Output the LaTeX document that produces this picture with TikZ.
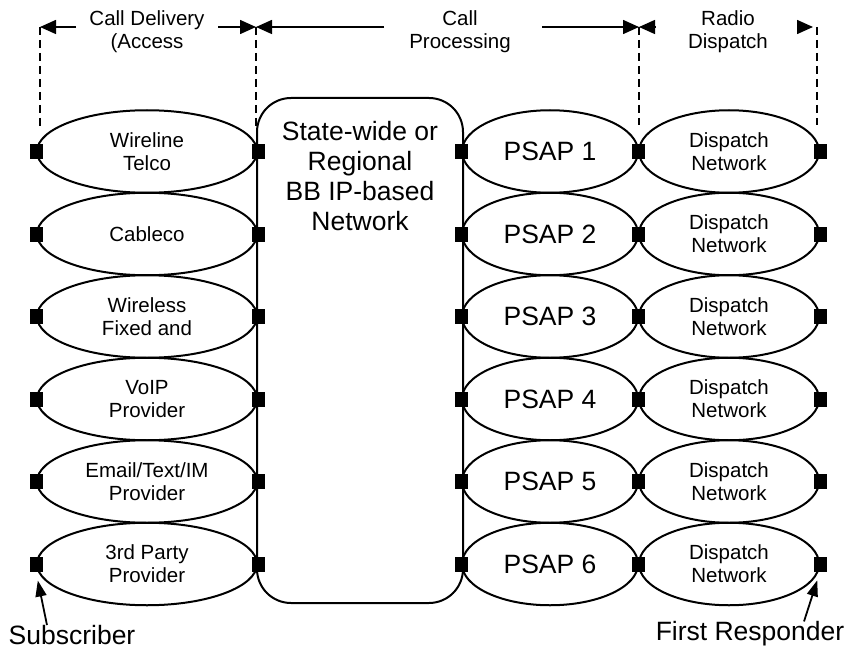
\documentclass[tikz,border=0pt]{standalone}
\usepackage{fontspec}
\setmainfont{Liberation Sans}
\usetikzlibrary{shapes.geometric}
\usetikzlibrary{arrows.meta}
\pgfdeclarelayer{edgelayer}
\pgfdeclarelayer{nodelayer}
\pgfsetlayers{edgelayer,nodelayer,main}
\tikzstyle{none}=[inner sep=0pt]
\tikzstyle{access}=[ellipse,fill=white,draw=black,line width=2pt,minimum width=220pt,minimum height=82.5pt,inner sep=0pt,align=center,font=\fontsize{20.5}{23}\selectfont]
\tikzstyle{psap}=[access,minimum width=176pt,font=\fontsize{26.5}{30}\selectfont]
\tikzstyle{dispatch}=[access,minimum width=180pt]
\tikzstyle{backbone}=[rectangle,rounded corners=34pt,fill=white,draw=black,line width=2pt,minimum width=206pt,minimum height=505pt]
\tikzstyle{port}=[rectangle,fill=black,minimum width=13pt,minimum height=15pt,inner sep=0pt]
\tikzstyle{heading}=[inner sep=0pt,align=center,font=\fontsize{20.5}{23}\selectfont]
\tikzstyle{endpoint}=[inner sep=0pt,align=center,font=\fontsize{26.5}{30}\selectfont]
\tikzstyle{boundary}=[draw=black,line width=1.5pt,dash pattern=on 8pt off 5pt]
\tikzstyle{span}=[-{Triangle[length=16pt,width=14pt]},draw=black,line width=1.5pt]
\tikzstyle{pointer}=[-{Triangle[length=16pt,width=11pt]},draw=black,line width=1.8pt]

\begin{document}
\begin{tikzpicture}[x=1pt,y=-1pt]
	\useasboundingbox (0,0) rectangle (848,650);
	\begin{pgfonlayer}{nodelayer}
		\node [style=backbone] (18) at (360, 350.5) {};
		\node [style=endpoint] (19) at (360, 176) {State-wide or\\Regional\\BB IP-based\\Network};
		\node [style=access] (0) at (147, 151.5) {Wireline\\Telco};
		\node [style=access] (1) at (147, 234) {Cableco};
		\node [style=access] (2) at (147, 316.5) {Wireless\\Fixed and};
		\node [style=access] (3) at (147, 399) {VoIP\\Provider};
		\node [style=access] (4) at (147, 481.5) {Email/Text/IM\\Provider};
		\node [style=access] (5) at (147, 564) {3rd Party\\Provider};
		\node [style=psap] (6) at (550, 151.5) {PSAP 1};
		\node [style=psap] (7) at (550, 234) {PSAP 2};
		\node [style=psap] (8) at (550, 316.5) {PSAP 3};
		\node [style=psap] (9) at (550, 399) {PSAP 4};
		\node [style=psap] (10) at (550, 481.5) {PSAP 5};
		\node [style=psap] (11) at (550, 564) {PSAP 6};
		\node [style=dispatch] (12) at (729, 151.5) {Dispatch\\Network};
		\node [style=dispatch] (13) at (729, 234) {Dispatch\\Network};
		\node [style=dispatch] (14) at (729, 316.5) {Dispatch\\Network};
		\node [style=dispatch] (15) at (729, 399) {Dispatch\\Network};
		\node [style=dispatch] (16) at (729, 481.5) {Dispatch\\Network};
		\node [style=dispatch] (17) at (729, 564) {Dispatch\\Network};
	\end{pgfonlayer}
	\begin{pgfonlayer}{main}
		\node [style=port] (20) at (0.west) {};
		\node [style=port] (21) at (1.west) {};
		\node [style=port] (22) at (2.west) {};
		\node [style=port] (23) at (3.west) {};
		\node [style=port] (24) at (4.west) {};
		\node [style=port] (25) at (5.west) {};
		\node [style=port] (26) at (0.east) {};
		\node [style=port] (27) at (1.east) {};
		\node [style=port] (28) at (2.east) {};
		\node [style=port] (29) at (3.east) {};
		\node [style=port] (30) at (4.east) {};
		\node [style=port] (31) at (5.east) {};
		\node [style=port] (32) at (6.west) {};
		\node [style=port] (33) at (7.west) {};
		\node [style=port] (34) at (8.west) {};
		\node [style=port] (35) at (9.west) {};
		\node [style=port] (36) at (10.west) {};
		\node [style=port] (37) at (11.west) {};
		\node [style=port] (38) at (12.west) {};
		\node [style=port] (39) at (13.west) {};
		\node [style=port] (40) at (14.west) {};
		\node [style=port] (41) at (15.west) {};
		\node [style=port] (42) at (16.west) {};
		\node [style=port] (43) at (17.west) {};
		\node [style=port] (44) at (12.east) {};
		\node [style=port] (45) at (13.east) {};
		\node [style=port] (46) at (14.east) {};
		\node [style=port] (47) at (15.east) {};
		\node [style=port] (48) at (16.east) {};
		\node [style=port] (49) at (17.east) {};
		\node [style=heading] (50) at (147, 32) {Call Delivery\\(Access};
		\node [style=heading] (51) at (460, 32) {Call\\Processing};
		\node [style=heading] (52) at (728, 32) {Radio\\Dispatch};
		\node [style=endpoint] (53) at (72, 635) {Subscriber};
		\node [style=endpoint] (54) at (750, 634) {First Responder};
	\end{pgfonlayer}
	\begin{pgfonlayer}{edgelayer}
		\coordinate (60) at (40, 27);
		\coordinate (61) at (40, 127);
		\coordinate (62) at (256, 27);
		\coordinate (63) at (256, 127);
		\coordinate (64) at (639, 27);
		\coordinate (65) at (639, 125);
		\coordinate (66) at (817, 27);
		\coordinate (67) at (817, 125);
		\coordinate (68) at (76, 27);
		\coordinate (69) at (218, 27);
		\coordinate (70) at (384, 27);
		\coordinate (71) at (542, 27);
		\coordinate (72) at (655, 27);
		\coordinate (73) at (797, 27);
		\draw [style=boundary] (60) to (61);
		\draw [style=boundary] (62) to (63);
		\draw [style=boundary] (64) to (65);
		\draw [style=boundary] (66) to (67);
		\draw [style=span] (68) to (60);
		\draw [style=span] (69) to (62);
		\draw [style=span] (70) to (62);
		\draw [style=span] (71) to (64);
		\draw [style=span] (72) to (64);
		\draw [style=span, shorten >=4pt] (73) to (66);
	\end{pgfonlayer}
	\draw [style=pointer, shorten >=9pt] ([xshift=-25pt]53.north) to (25.south);
	\draw [style=pointer, shorten >=9pt] ([xshift=54pt]54.north) to (49.south);
\end{tikzpicture}
\end{document}
